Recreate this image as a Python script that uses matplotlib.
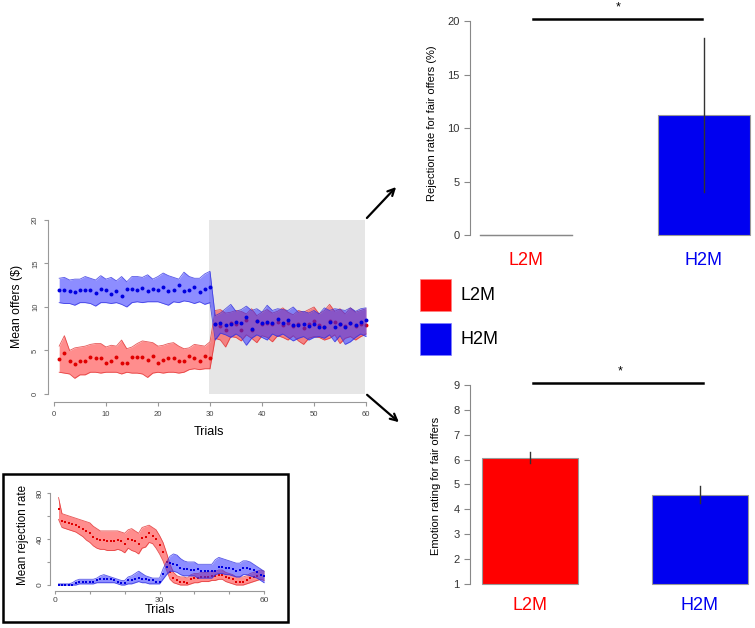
import matplotlib
matplotlib.use("Agg")
import matplotlib.pyplot as plt
import numpy as np
from matplotlib.patches import Rectangle, FancyArrowPatch

plt.rcParams['font.family'] = ['Liberation Sans', 'DejaVu Sans']

# ---------------- data ----------------
trials = list(range(1, 61))

# Mean offers ($) panel
l2m_offer = [4.0, 4.75, 3.8, 3.5, 3.8, 3.8, 4.3, 4.1, 4.1, 3.6, 3.8, 4.3, 3.6, 3.6, 4.3, 4.3, 4.3, 3.9, 4.4, 3.6,
             3.9, 4.1, 4.1, 3.8, 3.8, 4.4, 4.1, 3.8, 4.4, 4.1,
             8.0, 7.8, 7.4, 8.2, 8.0, 7.4, 8.5, 7.3, 8.4, 8.1, 8.2, 8.0, 8.3, 7.9, 8.2, 7.8, 8.1, 7.6, 8.0, 8.4,
             7.9, 7.7, 8.4, 8.3, 8.0, 7.8, 8.2, 7.8, 8.0, 7.9]
l2m_offer_hi = [5.5, 6.7, 5.0, 5.3, 5.4, 5.5, 5.7, 5.8, 5.8, 5.4, 5.6, 5.5, 6.2, 5.2, 5.4, 5.8, 6.1, 6.0, 5.9, 5.5,
                5.6, 5.8, 5.9, 5.5, 5.2, 5.3, 5.7, 5.6, 5.5, 6.0,
                9.6, 9.7, 9.3, 9.4, 9.6, 9.5, 9.2, 9.8, 9.0, 9.4, 9.7, 9.3, 9.5, 9.9, 9.4, 9.1, 9.6, 9.4, 9.7, 10.0,
                9.2, 9.6, 10.3, 9.5, 9.8, 9.2, 9.9, 9.4, 9.6, 9.8]
l2m_offer_lo = [2.5, 2.4, 2.3, 1.8, 2.2, 2.2, 2.5, 2.5, 2.4, 2.5, 2.5, 2.5, 2.3, 2.5, 2.4, 2.4, 2.3, 1.9, 2.4, 2.5,
                2.4, 2.5, 2.5, 2.4, 2.5, 2.8, 2.9, 2.8, 2.9, 2.9,
                6.4, 6.2, 5.4, 6.6, 6.5, 6.1, 6.8, 6.4, 5.9, 6.7, 6.5, 6.0, 6.7, 6.5, 6.2, 6.7, 6.1, 5.7, 6.4, 6.6,
                6.5, 6.2, 6.4, 6.8, 5.8, 6.4, 6.6, 6.2, 6.6, 6.9]
h2m_offer = [11.9, 11.9, 11.8, 11.7, 12.0, 12.0, 12.0, 11.6, 12.1, 12.0, 11.5, 11.8, 11.3, 12.1, 12.1, 12.0, 12.2,
             11.8, 12.1, 11.9, 12.3, 11.8, 11.9, 12.5, 11.8, 12.0, 12.3, 11.7, 12.1, 12.3,
             8.1, 8.2, 7.9, 8.1, 8.3, 8.2, 8.8, 7.5, 8.4, 8.2, 8.3, 8.2, 8.6, 8.2, 8.5, 7.9, 7.9, 8.1, 7.8, 8.0,
             7.7, 7.7, 8.3, 7.7, 8.0, 7.7, 8.2, 7.9, 8.3, 8.5]
h2m_offer_hi = [13.3, 13.4, 13.1, 13.2, 13.2, 13.5, 13.3, 13.1, 13.6, 13.2, 13.4, 13.0, 13.5, 12.9, 13.5, 13.5, 13.4,
                13.7, 13.2, 13.5, 13.9, 13.6, 13.4, 13.2, 14.0, 13.5, 13.3, 13.3, 13.8, 14.1,
                9.0, 9.3, 9.8, 10.3, 9.5, 9.7, 10.1, 9.6, 9.8, 9.4, 10.2, 9.6, 9.8, 9.7, 9.6, 10.0, 9.4, 9.5, 9.3,
                9.6, 9.2, 9.9, 9.6, 9.8, 9.7, 9.6, 9.9, 9.5, 9.8, 9.9]
h2m_offer_lo = [10.5, 10.4, 10.4, 10.2, 10.5, 10.5, 10.4, 10.1, 10.5, 10.5, 10.4, 10.5, 10.3, 10.0, 10.5, 10.6, 10.5,
                10.6, 10.6, 10.6, 10.4, 10.2, 10.6, 10.5, 10.7, 10.6, 10.4, 10.6, 10.3, 10.5,
                6.2, 7.0, 6.8, 6.5, 6.9, 6.5, 5.6, 6.4, 6.8, 6.5, 6.2, 6.9, 6.6, 6.9, 6.5, 6.1, 6.4, 6.6, 6.2, 6.5,
                6.6, 6.4, 6.8, 6.0, 6.7, 5.7, 6.0, 6.5, 6.9, 6.6]
shaded_trials = [29.8, 59.8]

# Mean rejection rate inset
l2m_rej = [66, 56, 55, 54, 53, 52, 50, 49, 47, 45, 42, 40, 39, 39, 38, 38, 38, 39, 38, 36,
           40, 39, 38, 36, 41, 42, 45, 43, 40, 35, 29, 20, 11, 6, 4, 3, 3, 2, 5, 6,
           6, 7, 7, 7, 8, 8, 9, 9, 7, 6, 5, 3, 3, 3, 4, 6, 7, 8, 9, 8]
l2m_rej_hi = [76, 62, 61, 60, 59, 58, 57, 56, 55, 54, 51, 49, 47, 47, 47, 47, 47, 47, 46, 45,
              48, 49, 47, 45, 50, 51, 52, 50, 48, 43, 37, 28, 18, 11, 8, 7, 7, 6, 9, 10,
              10, 11, 11, 11, 12, 12, 13, 13, 11, 10, 9, 7, 7, 7, 8, 10, 11, 12, 13, 12]
l2m_rej_lo = [57, 50, 49, 48, 47, 46, 44, 42, 39, 37, 34, 32, 31, 31, 30, 30, 30, 31, 30, 28,
              32, 30, 29, 27, 32, 33, 37, 36, 32, 27, 21, 13, 5, 2, 1, 0, 0, 0, 1, 2,
              2, 3, 3, 3, 4, 4, 5, 5, 3, 2, 1, 0, 0, 0, 1, 2, 3, 4, 5, 4]
h2m_rej = [0, 0, 0, 0, 0, 2, 3, 3, 3, 3, 3, 4, 5, 5, 5, 5, 4, 3, 2, 2,
           4, 4, 5, 6, 5, 5, 4, 4, 3, 3, 10, 16, 19, 18, 17, 15, 14, 14, 13, 13,
           14, 12, 12, 12, 12, 12, 16, 16, 15, 15, 14, 12, 13, 15, 15, 14, 13, 11, 9, 8]
h2m_rej_hi = [1, 1, 1, 1, 2, 4, 5, 5, 5, 5, 5, 6, 8, 9, 8, 7, 6, 5, 4, 4,
              7, 8, 10, 12, 10, 8, 7, 6, 6, 6, 14, 20, 25, 27, 26, 23, 21, 20, 20, 20,
              18, 18, 18, 18, 18, 22, 24, 23, 22, 21, 20, 19, 19, 21, 21, 20, 18, 16, 14, 12]
h2m_rej_lo = [0, 0, 0, 0, 0, 0, 1, 1, 1, 1, 1, 2, 2, 2, 2, 2, 2, 1, 0, 0,
              1, 1, 2, 3, 2, 2, 1, 1, 1, 1, 5, 9, 12, 12, 11, 9, 8, 8, 8, 8,
              6, 6, 6, 6, 6, 9, 10, 10, 9, 9, 8, 7, 7, 9, 9, 8, 7, 6, 4, 2]

# Bar charts
groups = ['L2M', 'H2M']
rejection_fair = [0.0, 11.2]
rejection_err_lo = [0.0, 4.0]
rejection_err_hi = [0.0, 18.4]
emotion_fair = [6.05, 4.57]
emotion_err_lo = [5.85, 4.25]
emotion_err_hi = [6.3, 4.92]

RED = '#ff0000'
BLUE = '#0000f0'
W, H = 755, 628


def box(l, t, r, b):
    return [l / W, 1 - b / H, (r - l) / W, (b - t) / H]


def draw_series(a, m, lo, hi, fc, ec, dc, z, s, marker):
    a.fill_between(trials, lo, hi, color=fc, alpha=0.55, lw=0, zorder=z)
    a.plot(trials, lo, color=ec, lw=0.6, alpha=0.8, zorder=z + 0.1)
    a.plot(trials, hi, color=ec, lw=0.6, alpha=0.8, zorder=z + 0.1)
    a.scatter(trials, m, s=s, marker=marker, color=dc, lw=0, zorder=z + 0.2)


fig = plt.figure(figsize=(7.55, 6.28), dpi=100)

# ---------------- main offers panel ----------------
ax = fig.add_axes(box(48, 215, 370, 402))
ax.set_xlim(-1.15, 60.77)
ax.set_ylim(-0.92, 20.57)
ax.add_patch(Rectangle((shaded_trials[0], 0), shaded_trials[1] - shaded_trials[0], 20,
                       facecolor='#e6e6e6', edgecolor='none', zorder=0))
draw_series(ax, l2m_offer, l2m_offer_lo, l2m_offer_hi, '#ff3030', '#e03030', '#e00000', 1, 8, 'o')
draw_series(ax, h2m_offer, h2m_offer_lo, h2m_offer_hi, '#3030ff', '#3030e0', '#0000e0', 2, 8, 'o')
for s in ['top', 'right']:
    ax.spines[s].set_visible(False)
ax.spines['left'].set_bounds(0, 20)
ax.spines['bottom'].set_bounds(0, 60)
for s in ['left', 'bottom']:
    ax.spines[s].set_color('#999999')
    ax.spines[s].set_linewidth(0.8)
ax.set_xticks(range(0, 61, 10))
ax.set_yticks(range(0, 21, 5))
ax.tick_params(colors='#999999', labelcolor='#444444', labelsize=5.5, length=3, width=0.8)
for lab in ax.get_yticklabels():
    lab.set_rotation(90)
    lab.set_va('center')
ax.set_xlabel('Trials', fontsize=9, labelpad=6)
fig.text(17 / W, 1 - 306 / H, 'Mean offers ($)', rotation=90, fontsize=8.8, ha='center', va='center')

# ---------------- rejection inset ----------------
fig.add_artist(Rectangle((3 / W, 1 - 622 / H), 285 / W, 148 / H, transform=fig.transFigure,
                         fill=False, edgecolor='black', lw=1.8))
ai = fig.add_axes(box(50, 488, 270, 591))
ai.set_xlim(-1.44, 61.7)
ai.set_ylim(-5.2, 84.3)
draw_series(ai, l2m_rej, l2m_rej_lo, l2m_rej_hi, '#ff3030', '#e03030', '#e00000', 1, 3, 's')
draw_series(ai, h2m_rej, h2m_rej_lo, h2m_rej_hi, '#3030ff', '#3030e0', '#0000e0', 2, 3, 's')
for s in ['top', 'right']:
    ai.spines[s].set_visible(False)
ai.spines['left'].set_bounds(0, 80)
ai.spines['bottom'].set_bounds(0, 60)
for s in ['left', 'bottom']:
    ai.spines[s].set_color('#999999')
    ai.spines[s].set_linewidth(0.8)
ai.set_xticks(range(0, 61, 10))
ai.set_xticklabels(['0', '', '', '30', '', '', '60'])
ai.set_yticks(range(0, 81, 20))
ai.set_yticklabels(['0', '', '40', '', '80'])
ai.tick_params(colors='#999999', labelcolor='#444444', labelsize=6, length=2.5, width=0.8, pad=2)
for lab in ai.get_yticklabels():
    lab.set_rotation(90)
    lab.set_va('center')
ai.set_xlabel('Trials', fontsize=9, labelpad=0)
fig.text(23 / W, 1 - 535 / H, 'Mean rejection rate', rotation=90, fontsize=8.4, ha='center', va='center')

# ---------------- top-right bar chart ----------------
xpos = [0, 1]
ab = fig.add_axes(box(470, 10, 755, 240))
ab.set_xlim(-0.315, 1.287)
ab.set_ylim(-0.467, 21.03)
ab.bar(xpos, rejection_fair, width=0.52, color=[RED, BLUE], edgecolor='#999999', lw=0.8)
ab.plot([xpos[0] - 0.26, xpos[0] + 0.26], [0, 0], color='#888888', lw=1)
for i in range(2):
    if rejection_err_hi[i] > rejection_err_lo[i]:
        ab.plot([xpos[i], xpos[i]], [rejection_err_lo[i], rejection_err_hi[i]], color='#333333', lw=1)
ab.plot([0.04, 0.99], [20.2, 20.2], color='black', lw=1.8, clip_on=False)
ab.text(0.52, 21.3, '*', ha='center', va='center', fontsize=9, clip_on=False)
for s in ['top', 'right', 'bottom']:
    ab.spines[s].set_visible(False)
ab.spines['left'].set_bounds(0, 20)
ab.spines['left'].set_color('#888888')
ab.set_xticks([])
ab.set_yticks(range(0, 21, 5))
ab.tick_params(colors='#888888', labelcolor='#333333', labelsize=8, length=4)
for i, g in enumerate(groups):
    ab.text(xpos[i], -0.087, g, transform=ab.get_xaxis_transform(), ha='center', va='center',
            fontsize=13, color=[RED, BLUE][i])
fig.text(432 / W, 1 - 123 / H, 'Rejection rate for fair offers (%)', rotation=90, fontsize=8,
         ha='center', va='center')

# ---------------- bottom-right bar chart ----------------
ae = fig.add_axes(box(470, 375, 755, 590))
ae.set_xlim(-0.353, 1.324)
ae.set_ylim(0.759, 9.40)
ae.bar(xpos, [v - 1 for v in emotion_fair], bottom=1, width=0.57, color=[RED, BLUE],
       edgecolor='#999999', lw=0.8)
for i in range(2):
    ae.plot([xpos[i], xpos[i]], [emotion_err_lo[i], emotion_err_hi[i]], color='#333333', lw=1)
ae.plot([0.02, 1.02], [9.09, 9.09], color='black', lw=1.8, clip_on=False)
ae.text(0.53, 9.55, '*', ha='center', va='center', fontsize=9, clip_on=False)
for s in ['top', 'right', 'bottom']:
    ae.spines[s].set_visible(False)
ae.spines['left'].set_bounds(1, 9)
ae.spines['left'].set_color('#888888')
ae.set_xticks([])
ae.set_yticks(range(1, 10))
ae.tick_params(colors='#888888', labelcolor='#333333', labelsize=8, length=4)
for i, g in enumerate(groups):
    ae.text(xpos[i], -15 / 215, g, transform=ae.get_xaxis_transform(), ha='center', va='center',
            fontsize=13, color=[RED, BLUE][i])
fig.text(436 / W, 1 - 486 / H, 'Emotion rating for fair offers', rotation=90, fontsize=8,
         ha='center', va='center')

# ---------------- legend ----------------
for (t, c, lab) in [(279, RED, 'L2M'), (323, BLUE, 'H2M')]:
    fig.add_artist(Rectangle((420 / W, 1 - (t + 32) / H), 31 / W, 32 / H, transform=fig.transFigure,
                             facecolor=c, edgecolor='#ff8080' if c == RED else '#8080ff', lw=0.5))
    fig.text(460 / W, 1 - (t + 16) / H, lab, fontsize=13, ha='left', va='center')

# ---------------- arrows ----------------
for (a, b) in [((365, 220), (398, 185)), ((365, 393), (401, 424))]:
    fig.add_artist(FancyArrowPatch((a[0] / W, 1 - a[1] / H), (b[0] / W, 1 - b[1] / H),
                                   transform=fig.transFigure, arrowstyle='->', mutation_scale=12,
                                   lw=1.6, color='black'))

fig.savefig('out.png', dpi=100)
